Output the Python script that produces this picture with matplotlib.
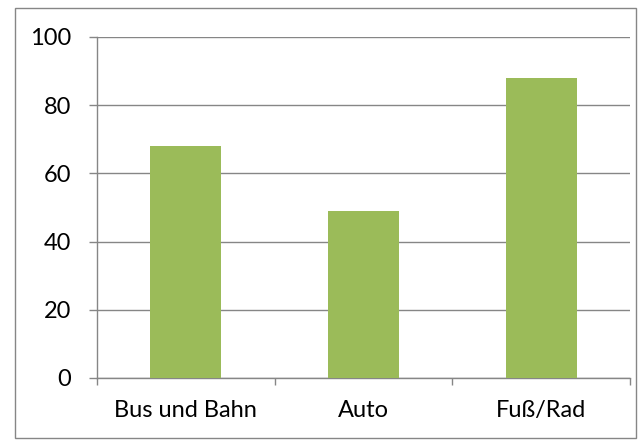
import matplotlib.pyplot as plt
from matplotlib.patches import Rectangle

categories = ["Bus und Bahn", "Auto", "Fuß/Rad"]
values = [68, 49, 88]
y_ticks = [0, 20, 40, 60, 80, 100]

plt.rcParams["font.family"] = ["Lato", "DejaVu Sans"]

fig = plt.figure(figsize=(6.41, 4.42), dpi=100)
ax = fig.add_axes([97 / 641, 64 / 442, 533 / 641, 341 / 442])

x = range(len(categories))
ax.bar(x, values, width=0.4, color="#9BBB59", zorder=3)

ax.set_xlim(-0.5, len(categories) - 0.5)
ax.set_ylim(0, 100)
ax.set_yticks(y_ticks)
ax.grid(axis="y", color="#868686", lw=1, zorder=0)

# category ticks sit between the bars, like Excel
ax.set_xticks([i - 0.5 for i in range(len(categories) + 1)])
ax.set_xticklabels([])
ax.set_xticks(list(x), minor=True)
ax.set_xticklabels(categories, minor=True, fontsize=17)
ax.tick_params(axis="x", which="minor", length=0, pad=16)
ax.tick_params(axis="x", which="major", length=5, color="#868686", width=1)
ax.tick_params(axis="y", length=5.8, color="#868686", width=1, labelsize=17, pad=13)

for side in ["top", "right"]:
    ax.spines[side].set_visible(False)
for side in ["left", "bottom"]:
    ax.spines[side].set_color("#868686")
    ax.spines[side].set_linewidth(1)

fig.patches.append(Rectangle((14.5 / 641, 4.5 / 442), 621 / 641, 430 / 442,
                             transform=fig.transFigure, fill=False,
                             edgecolor="#868686", lw=1))

fig.savefig("out.png", dpi=100)
